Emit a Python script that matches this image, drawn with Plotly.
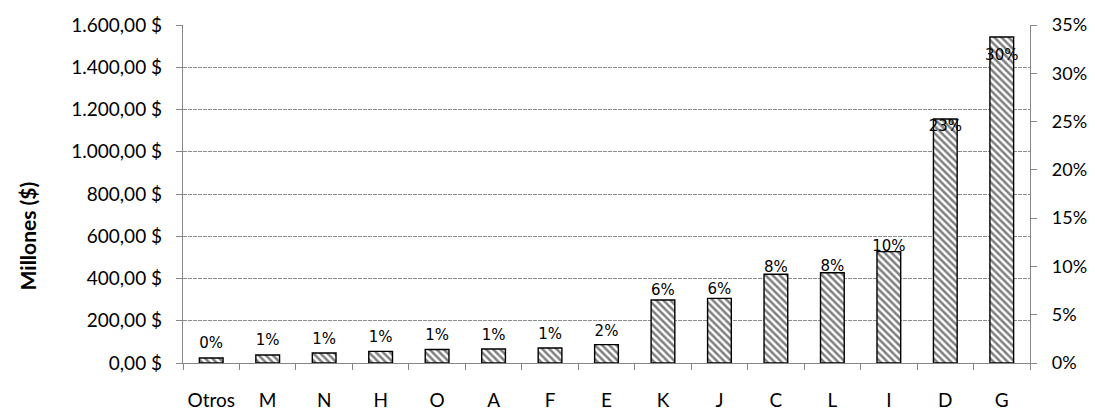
import plotly.graph_objs as go

# Data
categorias = ['Otros', 'M', 'N', 'H', 'O', 'A', 'F', 'E', 'K', 'J', 'C', 'L', 'I', 'D', 'G']
millones = [24, 38, 47, 55, 64, 66, 71, 87, 298, 306, 420, 427, 527, 1155, 1543]
porcentaje = [0.0047, 0.0076, 0.0093, 0.0109, 0.0127, 0.0131, 0.0141, 0.0173,
              0.0592, 0.0608, 0.0835, 0.0849, 0.1048, 0.2296, 0.3035]

font_main = 'Lato, Calibri, Carlito, sans-serif'

bars = go.Bar(
    x=categorias,
    y=millones,
    marker=dict(
        color='white',
        line=dict(color='black', width=1.4),
        pattern=dict(shape='\\', fgcolor='black', bgcolor='white', size=5, solidity=0.5),
    ),
    showlegend=False,
    hoverinfo='skip',
)

labels = go.Scatter(
    x=categorias,
    y=porcentaje,
    yaxis='y2',
    mode='markers+text',
    marker=dict(size=9, opacity=0),
    texttemplate='%{y:.0%}',
    textposition='top center',
    textfont=dict(family='DejaVu Sans, sans-serif', size=15, color='black'),
    showlegend=False,
    hoverinfo='skip',
)

layout = go.Layout(
    width=1095,
    height=412,
    margin=dict(l=175, r=73, t=17, b=57),
    paper_bgcolor='white',
    plot_bgcolor='white',
    separators=',.',
    bargap=0.58,
    font=dict(family=font_main, size=19, color='black'),
    xaxis=dict(
        type='category',
        range=[-0.5, len(categorias) - 0.5],
        automargin=False,
        tickangle=0,
        showline=True,
        linecolor='#868686',
        linewidth=1.3,
        ticks='outside',
        tickson='boundaries',
        ticklen=6,
        tickcolor='#868686',
        ticklabelstandoff=20,
        showgrid=False,
        tickfont=dict(family=font_main, size=19),
    ),
    yaxis=dict(
        range=[0, 1600],
        dtick=200,
        tickformat=',.2f',
        ticksuffix=' $',
        automargin=False,
        showline=True,
        linecolor='#868686',
        linewidth=1.3,
        ticks='outside',
        ticklen=6,
        tickcolor='#868686',
        ticklabelstandoff=10,
        showgrid=True,
        gridcolor='#8c8c8c',
        griddash='4px,1px',
        gridwidth=1,
        zeroline=False,
        tickfont=dict(family=font_main, size=19),
    ),
    yaxis2=dict(
        range=[0, 0.35],
        dtick=0.05,
        tickformat='.0%',
        overlaying='y',
        side='right',
        automargin=False,
        showline=True,
        linecolor='#868686',
        linewidth=1.3,
        ticks='outside',
        ticklen=6,
        tickcolor='#868686',
        ticklabelstandoff=11,
        showgrid=False,
        zeroline=False,
        tickfont=dict(family=font_main, size=18),
    ),
    annotations=[dict(
        text='<b>Millones ($)</b>',
        textangle=-90,
        xref='paper', yref='paper',
        x=-0.184, y=0.375,
        xanchor='center', yanchor='middle',
        showarrow=False,
        font=dict(family=font_main, size=21),
    )],
)

fig = go.Figure(data=[bars, labels], layout=layout)
fig.write_html('out.html')
